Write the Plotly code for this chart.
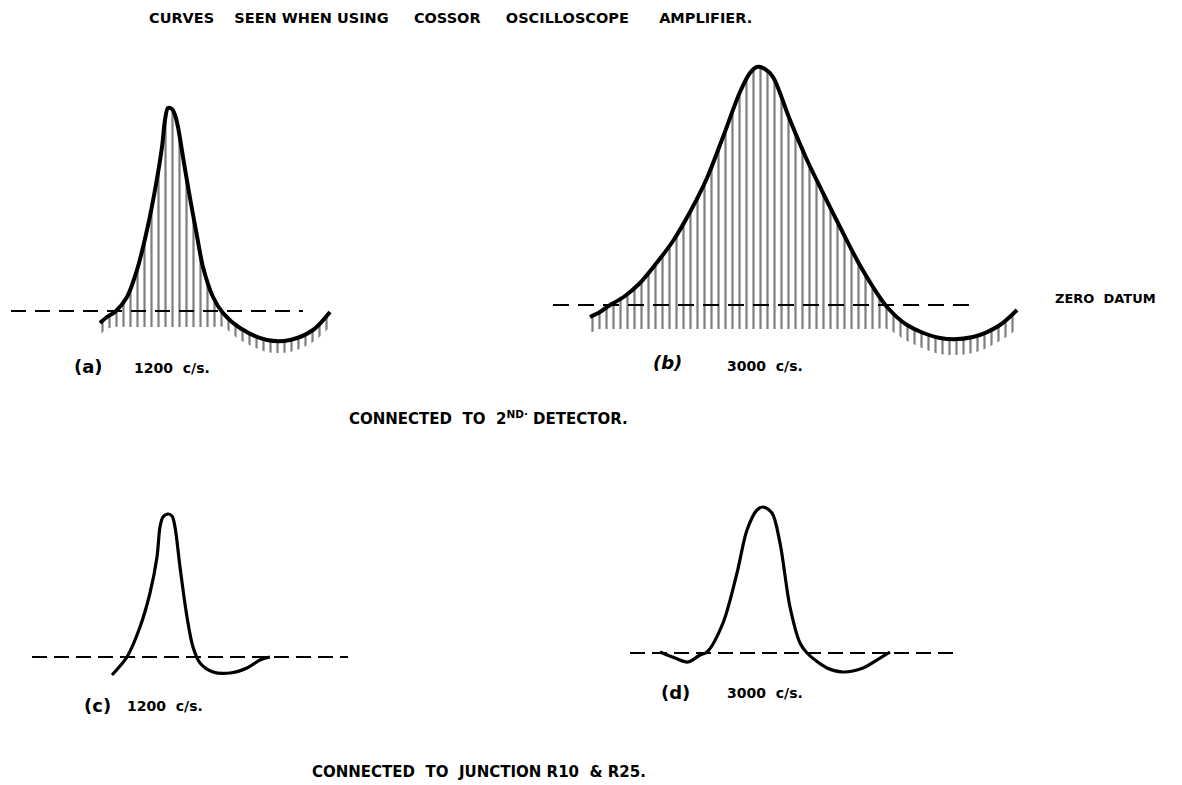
import numpy as np
import plotly.graph_objects as go

# browser viewport 1182x785; the page body has an 8px default margin
OFF = 8
FW, FH = 1174, 777

# ---- data (time in arbitrary units from start of trace, amplitude relative to zero datum)
# (a) 1200 c/s, connected to 2nd detector
a_x = [0, 7, 15, 27, 37, 47, 55, 62, 65, 68, 72, 75, 78, 83, 90, 97, 103, 113, 123, 140, 167, 190, 213, 230]
a_y = [-12, -6, -1, 14, 41, 81, 121, 164, 191, 203, 202, 196, 184, 154, 113, 75, 44, 14, -2, -17, -29, -29, -19, -1]
# (b) 3000 c/s, connected to 2nd detector
b_x = [0, 10, 17, 35, 50, 65, 83, 100, 117, 133, 150, 160, 167, 175, 183, 200, 217, 233, 250, 267, 283, 297, 317, 350, 383, 410, 427]
b_y = [-12, -7, -2, 9, 22, 40, 64, 93, 127, 168, 213, 232, 238, 236, 228, 185, 145, 112, 78, 45, 18, -2, -20, -33, -32, -20, -5]
# (c) 1200 c/s, connected to junction R10 & R25
c_x = [0, 8, 15, 28, 38, 45, 48, 51, 56, 60, 63, 68, 75, 81, 88, 101, 118, 135, 148, 158]
c_y = [-18, -9, 0, 30, 64, 100, 130, 140, 143, 141, 130, 90, 40, 10, -6, -15, -16, -11, -3, 0]
# (d) 3000 c/s, connected to junction R10 & R25
d_x = [0, 15, 28, 40, 47, 63, 77, 87, 97, 103, 112, 120, 130, 140, 147, 167, 183, 203, 220, 230]
d_y = [1, -5, -9, -2, 1, 30, 80, 123, 143, 146, 140, 110, 46, 10, 0, -15, -19, -15, -5, 1]

# zero datum extents (same units)
datum_a = [-89, 203]
datum_b = [-37, 383]
datum_c = [-80, 236]
datum_d = [-30, 298]


def px(x):
    return (x - OFF) / FW


def py(y):
    return 1 - (y - OFF) / FH


# ---- layout (screen pixel boxes & datum origins)
panels = {
    "a": dict(box=(0, 90, 345, 360), origin=(100, 311)),
    "b": dict(box=(540, 50, 1040, 360), origin=(590, 305)),
    "c": dict(box=(10, 490, 360, 700), origin=(112, 657)),
    "d": dict(box=(600, 490, 980, 700), origin=(660, 653)),
}

fig = go.Figure()
layout_axes = {}
for i, (key, p) in enumerate(panels.items(), start=1):
    x0, y0, x1, y1 = p["box"]
    ox, oy = p["origin"]
    sfx = "" if i == 1 else str(i)
    layout_axes["xaxis" + sfx] = dict(domain=[max(px(x0), 0), px(x1)], range=[max(x0, OFF) - ox, x1 - ox],
                                      visible=False, fixedrange=True, anchor="y" + sfx)
    layout_axes["yaxis" + sfx] = dict(domain=[py(y1), py(y0)], range=[oy - y1, oy - y0],
                                      visible=False, fixedrange=True, anchor="x" + sfx)
    p["xref"] = "x" + sfx
    p["yref"] = "y" + sfx

series = {
    "a": (a_x, a_y, datum_a, True, 12, 16, "15px,9px"),
    "b": (b_x, b_y, datum_b, True, 16, 24, "16px,9px"),
    "c": (c_x, c_y, datum_c, False, 0, 0, "15px,7px"),
    "d": (d_x, d_y, datum_d, False, 0, 0, "15px,7px"),
}

for key, (xs, ys, datum, hatched, dl, db, dash) in series.items():
    xr, yr = panels[key]["xref"], panels[key]["yref"]
    fig.add_trace(go.Scatter(x=datum, y=[0, 0], mode="lines", xaxis=xr, yaxis=yr,
                             line=dict(color="black", width=2, dash=dash),
                             hoverinfo="skip", showlegend=False))
    if hatched:
        yv = np.array(ys, dtype=float)
        low = np.minimum(yv - dl, -db)
        fig.add_trace(go.Scatter(x=xs, y=low, mode="lines", xaxis=xr, yaxis=yr,
                                 line=dict(width=0, shape="spline", smoothing=0.9),
                                 hoverinfo="skip", showlegend=False))
        fig.add_trace(go.Scatter(x=xs, y=ys, mode="lines", xaxis=xr, yaxis=yr,
                                 fill="tonexty", fillcolor="rgba(0,0,0,0)",
                                 fillpattern=dict(shape="|", fgcolor="black",
                                                  bgcolor="rgba(255,255,255,0)",
                                                  size=7, solidity=0.32),
                                 line=dict(width=0, shape="spline", smoothing=0.9),
                                 hoverinfo="skip", showlegend=False))
    fig.add_trace(go.Scatter(x=xs, y=ys, mode="lines", xaxis=xr, yaxis=yr,
                             line=dict(color="black", width=4 if hatched else 3.2,
                                       shape="spline", smoothing=0.9),
                             hoverinfo="skip", showlegend=False))

FONT = "DejaVu Sans"
NB = "\u00a0"
texts = [
    ("CURVES" + NB * 4 + "SEEN WHEN USING" + NB * 5 + "COSSOR" + NB * 5 + "OSCILLOSCOPE" + NB * 6 + "AMPLIFIER.",
     450, 18, 14.5, "center", "normal"),
    ("(a)", 88, 366, 18, "center", "normal"),
    ("1200" + NB * 2 + "c/s.", 132, 368, 14, "left", "normal"),
    ("(b)", 667, 362, 18, "center", "italic"),
    ("3000" + NB * 2 + "c/s.", 725, 366, 14, "left", "normal"),
    ("ZERO" + NB * 2 + "DATUM", 1053, 299, 13, "left", "normal"),
    ("CONNECTED" + NB + " TO" + NB + " 2<sup>ND·</sup> DETECTOR.", 488, 418, 15, "center", "normal"),
    ("(c)", 97, 705, 18, "center", "normal"),
    ("1200" + NB * 2 + "c/s.", 125, 706, 14, "left", "normal"),
    ("(d)", 675, 692, 18, "center", "normal"),
    ("3000" + NB * 2 + "c/s.", 725, 693, 14, "left", "normal"),
    ("CONNECTED" + NB + " TO" + NB + " JUNCTION R10" + NB * 2 + "& R25.", 479, 772, 15, "center", "normal"),
]
annotations = []
for t, x, y, size, anchor, style in texts:
    annotations.append(dict(text=t, x=px(x), y=py(y), xref="paper", yref="paper",
                            xanchor=anchor, yanchor="middle", showarrow=False,
                            font=dict(family=FONT, size=size, color="black",
                                      weight="bold", style=style)))

fig.update_layout(width=FW, height=FH, margin=dict(l=0, r=0, t=0, b=0),
                  paper_bgcolor="white", plot_bgcolor="white",
                  showlegend=False, annotations=annotations, **layout_axes)

fig.write_html("out.html", config={"displayModeBar": False})
